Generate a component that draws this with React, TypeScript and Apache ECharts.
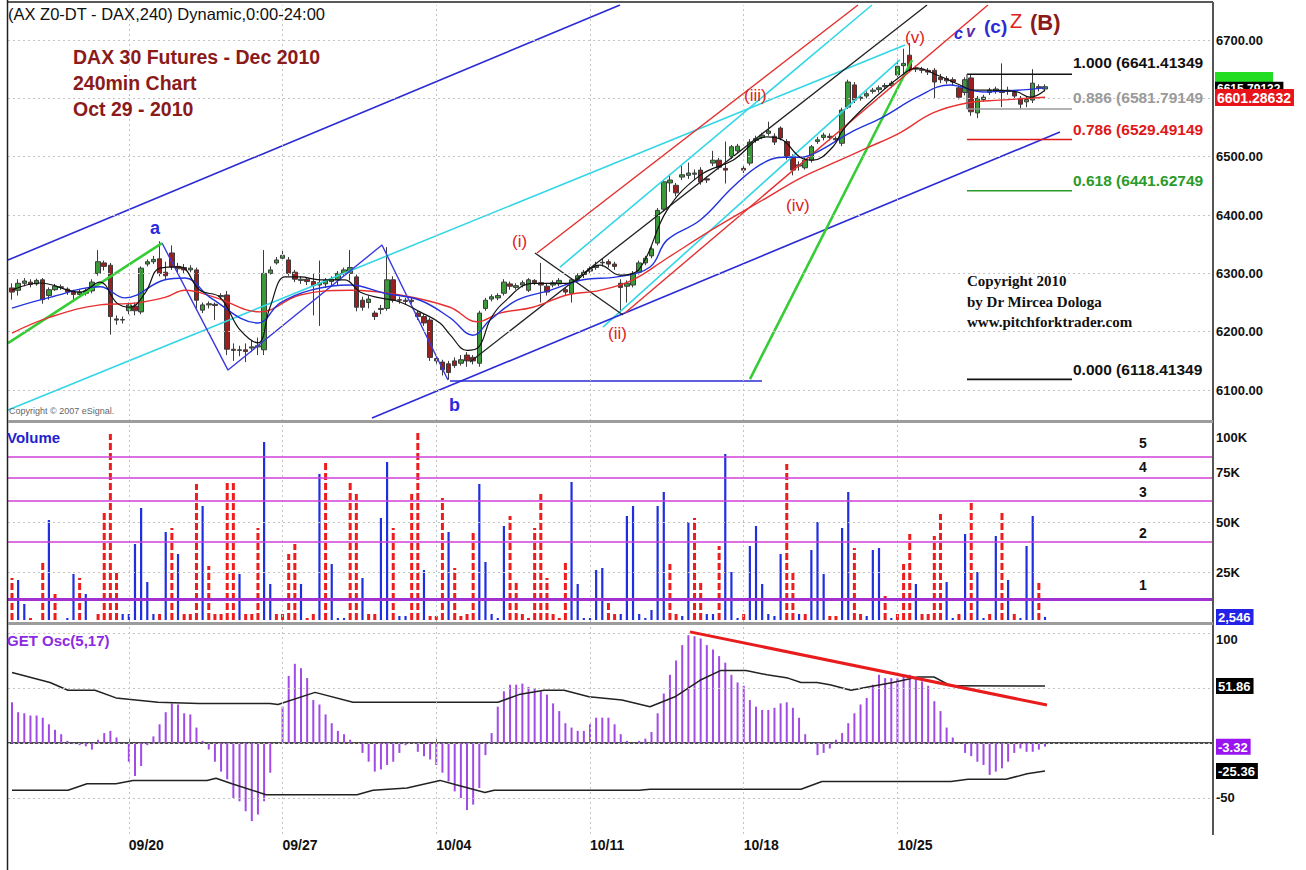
import React, { useEffect, useRef } from "react";
import * as echarts from "echarts";

// ---------- data ----------
const dateTicks = [19, 44, 69, 94, 119, 144];
const dateLabels = ["09/20", "09/27", "10/04", "10/11", "10/18", "10/25"];
const priceGrid = [6100, 6200, 6300, 6400, 6500, 6600, 6700];
const priceTicks = [6100, 6200, 6300, 6400, 6500, 6700]; // 6600 is hidden under the last-price box
const lastPrices = [6615.79132, 6601.28632];
const volTicks = [25, 50, 75, 100];
const lastVolume = 2.546;
const oscTicks = [100, -50];
const oscLast = [51.86, -3.32, -25.36];
const oscGridVals = [100, 50, 0, -50];
const volGridVals = [25, 50];

// [open, close, low, high] per 240-min bar
const candles: number[][] = [
  [6275,6268,6255,6283],[6271,6283,6262,6290],[6283,6287,6278,6292],[6285,6281,6276,6290],[6282,6288,6279,6291],
  [6289,6255,6248,6292],[6262,6272,6255,6276],[6272,6278,6270,6282],[6277,6276,6272,6281],[6273,6268,6263,6276],
  [6268,6264,6255,6272],[6264,6268,6260,6272],[6266,6270,6262,6274],[6270,6285,6266,6290],[6300,6320,6296,6340],
  [6318,6312,6305,6322],[6314,6226,6195,6318],[6222,6220,6212,6228],[6220,6221,6214,6226],[6236,6246,6230,6250],
  [6244,6236,6228,6250],[6234,6309,6230,6312],[6316,6320,6312,6324],[6320,6324,6316,6330],[6325,6300,6295,6355],
  [6302,6296,6290,6320],[6335,6311,6306,6348],[6312,6308,6300,6318],[6310,6306,6300,6316],[6306,6309,6302,6314],
  [6306,6254,6240,6310],[6237,6246,6232,6250],[6246,6248,6240,6252],[6247,6245,6220,6250],[6260,6262,6255,6266],
  [6263,6170,6160,6270],[6170,6168,6150,6180],[6168,6169,6158,6176],[6169,6166,6148,6180],[6172,6174,6165,6185],
  [6174,6176,6160,6190],[6169,6300,6160,6340],[6300,6306,6298,6312],[6318,6323,6315,6328],[6326,6331,6322,6340],
  [6323,6300,6296,6328],[6302,6290,6285,6306],[6288,6290,6282,6295],[6290,6286,6280,6294],[6286,6279,6228,6300],
  [6280,6284,6210,6322],[6282,6288,6275,6292],[6286,6290,6278,6295],[6289,6300,6280,6304],[6300,6306,6296,6310],
  [6300,6310,6288,6340],[6294,6242,6235,6298],[6254,6242,6236,6260],[6250,6256,6240,6262],[6232,6226,6220,6236],
  [6238,6240,6230,6246],[6240,6289,6236,6345],[6289,6254,6250,6295],[6255,6254,6248,6260],[6254,6252,6246,6258],
  [6254,6252,6248,6258],[6232,6226,6220,6236],[6226,6215,6210,6230],[6220,6156,6150,6224],[6154,6150,6145,6160],
  [6148,6135,6125,6152],[6145,6130,6118,6150],[6150,6142,6138,6156],[6146,6152,6142,6160],[6160,6150,6140,6165],
  [6156,6150,6144,6160],[6146,6232,6140,6236],[6240,6254,6236,6258],[6256,6260,6252,6264],[6258,6262,6254,6266],
  [6266,6285,6262,6290],[6282,6278,6272,6286],[6276,6279,6272,6283],[6280,6284,6276,6288],[6271,6289,6268,6292],
  [6288,6284,6280,6290],[6284,6280,6250,6318],[6278,6268,6262,6282],[6280,6284,6276,6288],[6282,6288,6278,6292],
  [6272,6268,6262,6276],[6266,6289,6250,6292],[6289,6296,6286,6300],[6298,6302,6292,6306],[6304,6308,6300,6312],
  [6310,6314,6306,6320],[6318,6319,6312,6326],[6320,6316,6310,6324],[6316,6312,6306,6320],[6283,6276,6234,6290],
  [6278,6283,6250,6288],[6280,6300,6276,6304],[6302,6318,6298,6322],[6318,6326,6314,6330],[6330,6342,6326,6346],
  [6352,6408,6348,6412],[6410,6457,6406,6460],[6455,6460,6440,6470],[6451,6438,6432,6455],[6465,6469,6460,6485],
  [6468,6472,6462,6490],[6470,6472,6460,6478],[6477,6457,6452,6482],[6462,6460,6455,6466],[6489,6494,6484,6510],
  [6494,6482,6478,6498],[6480,6477,6454,6526],[6500,6517,6496,6520],[6510,6518,6506,6522],[6480,6477,6472,6484],
  [6489,6525,6485,6530],[6528,6531,6524,6536],[6533,6537,6530,6541],[6540,6544,6536,6560],[6535,6525,6520,6540],
  [6549,6532,6528,6552],[6526,6500,6495,6530],[6500,6477,6468,6504],[6484,6486,6476,6492],[6481,6494,6478,6498],
  [6494,6517,6490,6520],[6526,6529,6522,6534],[6533,6537,6528,6541],[6535,6533,6528,6540],[6531,6529,6525,6535],
  [6523,6580,6518,6584],[6585,6628,6582,6632],[6623,6597,6592,6628],[6600,6602,6596,6606],[6604,6608,6600,6612],
  [6612,6614,6608,6618],[6615,6618,6610,6622],[6620,6622,6616,6626],[6622,6626,6618,6630],[6640,6655,6636,6668],
  [6656,6660,6640,6685],[6674,6650,6645,6695],[6652,6650,6645,6656],[6650,6648,6643,6654],[6648,6645,6640,6652],
  [6648,6628,6600,6652],[6636,6632,6626,6642],[6634,6630,6625,6638],[6632,6628,6622,6636],[6618,6602,6598,6622],
  [6610,6632,6605,6636],[6635,6577,6570,6640],[6575,6600,6566,6604],[6598,6602,6594,6606],[6610,6614,6606,6618],
  [6612,6616,6608,6620],[6614,6610,6585,6660],[6612,6614,6606,6620],[6610,6604,6598,6614],[6600,6590,6582,6604],
  [6594,6598,6585,6602],[6597,6626,6592,6650],[6620,6618,6612,6624],[6616,6620,6612,6624],
];

// volume in thousands, and direction (1 = up bar, 0 = down bar)
const volumes = [
  22,21,9,2,1,30,51,14,1,2,24,22,14,1,4,55,94,26,4,4,39,57,20,4,4,45,47,34,4,4,
  69,58,28,4,4,71,70,24,4,4,47,90,19,4,4,34,39,19,2,4,74,80,29,2,2,71,64,22,4,4,
  52,80,47,3,3,64,95,26,3,3,62,45,27,3,4,46,69,30,4,2,48,53,20,4,2,47,64,22,4,2,
  30,70,19,2,2,26,27,12,4,4,53,58,4,2,6,58,65,29,4,3,50,52,21,4,4,38,84,25,2,4,
  38,48,19,4,3,34,79,26,4,4,36,50,24,3,3,47,65,37,4,3,36,37,13,2,4,29,44,19,4,4,
  43,54,20,2,4,44,61,25,2,4,43,55,21,4,2,38,53,21,2.546,
];
const volUp = [
  0,1,1,0,0,0,1,0,0,1,1,0,1,1,0,0,0,0,1,1,1,1,1,1,0,1,0,1,0,0,
  0,1,0,0,0,0,0,1,0,0,0,1,1,0,0,0,0,1,0,0,1,0,1,1,1,0,0,1,0,0,
  1,1,0,1,1,0,0,1,0,0,0,1,0,0,0,0,1,1,1,1,1,0,0,0,0,0,0,0,0,0,
  0,1,1,1,1,1,1,0,0,1,1,1,1,1,1,1,1,0,0,1,1,0,0,1,1,0,1,1,1,0,
  1,1,1,1,1,1,0,0,1,0,1,1,1,0,0,1,1,0,0,1,1,1,0,1,0,0,0,1,0,0,
  0,0,1,1,0,1,0,1,1,0,1,0,1,0,1,1,1,0,1,
];
const volumeLevels = [11.5, 40, 60.5, 72, 82.5];
const volumeLevelNames = ["1", "2", "3", "4", "5"];

// GET oscillator histogram
const osc = [
  37,28,27,25,25,23,17,12,8,2,-1,-2,-3,-6,3,9,11,5,0,-17,
  -30,-21,-2,6,17,28,36,35,27,26,14,2,-6,-17,-26,-33,-50,-53,-62,-71,
  -65,-53,-27,0,33,61,72,68,59,39,35,26,18,11,8,3,0,-9,-17,-26,
  -24,-20,-17,-9,-2,0,-8,-12,-15,-20,-27,-35,-44,-50,-61,-56,-41,-11,9,33,
  47,53,53,54,51,50,47,44,36,29,18,14,11,11,17,23,23,23,17,8,
  2,0,2,4,10,27,45,62,75,89,98,97,95,89,85,79,73,62,55,52,
  39,33,30,30,32,36,37,32,23,8,0,-11,-9,-5,3,9,18,27,35,41,
  53,62,59,59,59,61,62,59,56,52,38,29,14,5,0,-9,-12,-17,-20,-29,
  -26,-23,-17,-9,-5,-8,-8,-6,-3.32,
];
const oscUpper = [
  [0,64],[6.18,55],[9.11,48],[13.5,48],[16.91,41],[23.74,37],[30.41,36],[41.96,36],[43.26,35],[49.28,46],
  [55.46,37],[79.04,37],[82.45,44],[86.52,48],[89.77,48],[93.84,42],[99.2,39],[103.76,33],[107.82,42],[111.89,57],
  [115.3,66],[119.37,66],[122.78,62],[126.2,59],[128.31,55],[130.91,55],[133.03,53],[136.44,48],[139.21,51],[143.27,55],
  [147.34,60],[149.94,60],[152.71,52],[168,51.86],
];
const oscLower = [
  [0,-43],[9.11,-43],[12.2,-37],[16.91,-37],[19.68,-34],[31.71,-34],[33.18,-32],[35.78,-37],[41.31,-47],[56.11,-47],
  [58.71,-43],[64.24,-41],[69.6,-34],[72.21,-38],[76.92,-45],[78.39,-43],[101.97,-43],[103.76,-42],[128.31,-42],[131.73,-35],
  [152.71,-35],[155.47,-33],[161.65,-33],[165.07,-28],[168,-25.36],
];
const oscTrend = [[110.26,101],[168.32,34.5]];

// moving averages on price
const maBlack = [
  [0,6271.5],[4.55,6283.5],[11.06,6268],[14.31,6285],[17.08,6249],[19.19,6242],[21.63,6266],[24.07,6309],[27.32,6311],[30.57,6271],
  [33.83,6259],[37.08,6203],[40,6181],[41.96,6242],[44.4,6294],[46.84,6294],[50.09,6289],[54.15,6289],[56.6,6268],[59.85,6258],
  [63.1,6251],[66.35,6234],[69.6,6215],[71.23,6195],[74,6168],[76,6175],[77.74,6220],[79.85,6249],[84.73,6283],[90.26,6283],
  [95.63,6314],[98.88,6297],[102.13,6309],[106.52,6408],[111.89,6468],[117.25,6494],[122.78,6534],[125.39,6528],[128.15,6499],[130.27,6494],
  [133.52,6517],[135.14,6546],[139.05,6589],[144.41,6637],[147.18,6652],[150.43,6640],[154.17,6623],[156.28,6614],[159.05,6614],[163.44,6611],
  [165.56,6602],[168,6614],
];
const maBlue = [
  [0,6240.6],[6.18,6259],[14.31,6277],[18.38,6258],[24.88,6289],[28.13,6292],[32.2,6259],[40,6215],[43.58,6249],[48.46,6271],
  [54.97,6280],[60.66,6266],[66.35,6254],[71.23,6224],[74.97,6194],[77.74,6220],[82.13,6254],[87.49,6271],[92.86,6289],[98.39,6294],
  [103.76,6311],[106.52,6357],[111.89,6391],[117.25,6448],[121.65,6486],[125.39,6499],[128.15,6499],[130.91,6508],[136.28,6541],[141.65,6568],
  [147.18,6602],[152.55,6623],[157.91,6611],[163.44,6614],[168,6618],
];
const maRed = [
  [0,6197.7],[6.18,6225],[14.31,6246],[20,6249],[24.88,6259],[28.13,6271],[33,6259],[40.33,6234],[46.84,6263],[54.97,6271],
  [63.1,6263],[71.23,6242],[75.62,6217],[79.36,6232],[84.73,6242],[90.26,6263],[95.63,6271],[100.99,6289],[106.52,6326],[114.65,6380],
  [122.78,6430],[128.15,6463],[133.52,6489],[139.05,6515],[144.41,6541],[149.78,6575],[155.31,6592],[160.68,6597],[168,6602],
];

// drawn tools (pitchforks, trend lines) in [bar, price]
const blueUpper = [[-0.65,6322.9],[98.88,6760]];
const blueLower = [[58.55,6052],[170.43,6542.3]];
const blueBase = [[71.23,6115.5],[121.97,6115.5]];
const waveZigzag = [[24.4,6352],[35.13,6134.3],[60.17,6348.6],[70.9,6117.2]];
const greenLeft = [[-0.65,6180.6],[24.4,6352]];
const greenRight = [[120.02,6118.9],[146.36,6665.7]];
const blackMedian = [[74.48,6148],[148.81,6760]];
const blackCross = [[85.05,6334.9],[99.37,6228.6]];
const redUpper = [[85.38,6334.9],[137.58,6760]];
const redLower = [[99.69,6232],[158.72,6760]];
const cyanA = [[-0.65,6065.7],[145.23,6691.5]];
const cyanB = [[89.12,6310.9],[139.86,6760]];
const cyanC = [[96.1,6208],[144.4,6666]];

const fibRatios = ["1.000", "0.886", "0.786", "0.618", "0.000"];
const fibPrices = [6641.41349, 6581.79149, 6529.49149, 6441.62749, 6118.41349];
const fibSpan = [155.31, 172.39];

// ---------- styles ----------
const FONT = "Liberation Sans, Arial, sans-serif";
const SERIF = "Liberation Serif, Times New Roman, serif";
const FIB_COLORS = ["#111", "#9a9a9a", "#e01818", "#2a9a2a", "#111"];
const FIB_LABEL_Y = [62, 97, 129, 180, 369];
const VOL_LABEL_Y = [585, 533, 492, 467, 443];
const BOX_COLORS = ["#000", "#e8141a"];
const BOX_FONT = [12, 14];

function lineSeries(data: number[][], color: string, width: number, axis = 0, smooth: boolean | number = false, z = 4) {
  return {
    type: "line", xAxisIndex: axis, yAxisIndex: axis, data, symbol: "none", showSymbol: false,
    silent: true, smooth, clip: true, z,
    lineStyle: { color, width },
  };
}

function txt(text: string, x: number, y: number, fill: string, font: string) {
  return {
    type: "text", x, y, z: 20, silent: true,
    style: { text, fill, font, textAlign: "left", textVerticalAlign: "middle", align: "left", verticalAlign: "middle" },
  };
}

const App = () => {
  const ref = useRef<HTMLDivElement>(null);
  useEffect(() => {
    const chart = echarts.init(ref.current!, null, { renderer: "svg" });
    const xBase = { type: "value", min: -0.65, max: 195.32, show: false };
    const dotted = { type: [2, 3], color: "#c4c4c4", width: 1 };

    const option: any = {
      animation: false,
      backgroundColor: "#fff",
      textStyle: { fontFamily: FONT },
      grid: [
        { left: 8, top: 5, width: 1205, height: 416 },
        { left: 8, top: 422, width: 1205, height: 200 },
        { left: 8, top: 626, width: 1205, height: 208 },
      ],
      xAxis: [
        { ...xBase, gridIndex: 0 },
        { ...xBase, gridIndex: 1 },
        {
          type: "value", gridIndex: 2, min: -0.65, max: 195.32,
          axisLine: { show: true, lineStyle: { color: "#111", width: 1.5 } },
          splitLine: { show: false },
          axisTick: { show: true, inside: true, length: 4, customValues: dateTicks, lineStyle: { color: "#777" } },
          axisLabel: {
            customValues: dateTicks, align: "left", margin: 4,
            fontSize: 14, fontWeight: "bold", color: "#111", fontFamily: FONT,
            formatter: (v: number) => dateLabels[dateTicks.indexOf(v)] ?? "",
          },
        },
      ],
      yAxis: [
        {
          type: "value", gridIndex: 0, position: "right", min: 6047, max: 6760, scale: true,
          axisLine: { show: false }, axisTick: { show: false }, splitLine: { show: false },
          axisLabel: {
            customValues: priceTicks, margin: 3,
            fontSize: 13, fontWeight: "bold", color: "#111", fontFamily: FONT,
            formatter: (v: number) => v.toFixed(2),
          },
        },
        {
          type: "value", gridIndex: 1, position: "right", min: 0, max: 100,
          axisLine: { show: false }, axisTick: { show: false }, splitLine: { show: false },
          axisLabel: {
            customValues: [lastVolume, ...volTicks], margin: 3,
            formatter: (v: number) => {
              if (v === lastVolume) return "{b|" + "2,546" + "}";
              if (v === 100) return "{t|100K}";
              return "{n|" + v + "K}";
            },
            rich: {
              n: { fontSize: 13, fontWeight: "bold", color: "#111", fontFamily: FONT },
              t: { fontSize: 13, fontWeight: "bold", color: "#111", padding: [30, 0, 0, 0], fontFamily: FONT },
              b: { fontSize: 13, fontWeight: "bold", color: "#fff", backgroundColor: "#2222e8", padding: [2, 3, 1, 2], fontFamily: FONT },
            },
          },
        },
        {
          type: "value", gridIndex: 2, position: "right", min: -82.73, max: 106.36,
          axisLine: { show: false }, axisTick: { show: false }, splitLine: { show: false },
          axisLabel: {
            customValues: [...oscTicks, ...oscLast], margin: 3,
            formatter: (v: number) => {
              if (v === 100) return "{t|100}";
              if (v === -3.32) return "{p|-3.32}";
              if (v === 51.86 || v === -25.36) return "{k|" + v.toFixed(2) + "}";
              return "{n|" + v + "}";
            },
            rich: {
              n: { fontSize: 13, fontWeight: "bold", color: "#111", fontFamily: FONT },
              t: { fontSize: 13, fontWeight: "bold", color: "#111", padding: [14, 0, 0, 0], fontFamily: FONT },
              k: { fontSize: 13, fontWeight: "bold", color: "#fff", backgroundColor: "#000", padding: [2, 3, 1, 2], fontFamily: FONT },
              p: { fontSize: 13, fontWeight: "bold", color: "#fff", backgroundColor: "#9a14f0", padding: [2, 3, 1, 2], fontFamily: FONT },
            },
          },
        },
      ],
      series: [
        {
          type: "candlestick", xAxisIndex: 0, yAxisIndex: 0, barWidth: 5, z: 3, silent: true,
          data: candles.map((c, i) => [i, c[0], c[1], c[2], c[3]]),
          encode: { x: 0, y: [1, 2, 3, 4] },
          itemStyle: { color: "#3a9a3a", color0: "#9b1f1f", borderColor: "#3c3c3c", borderColor0: "#3c3c3c", borderWidth: 1 },
          markLine: {
            silent: true, symbol: ["none", "none"], label: { show: false }, lineStyle: dotted,
            data: [
              ...priceGrid.map((v) => ({ yAxis: v })),
              ...dateTicks.map((v) => ({ xAxis: v })),
              ...lastPrices.map((p, k) => ({
                yAxis: p,
                lineStyle: { color: "rgba(0,0,0,0)", width: 0 },
                label: {
                  show: true, position: "end", distance: 2, formatter: p.toFixed(5),
                  color: "#fff", backgroundColor: BOX_COLORS[k], fontSize: BOX_FONT[k], fontWeight: "bold",
                  fontFamily: FONT, padding: [2, 3, 1, 2],
                },
              })),
            ],
          },
        },
        lineSeries(cyanA, "#33d6e6", 1.6),
        lineSeries(cyanB, "#33d6e6", 1.6),
        lineSeries(cyanC, "#33d6e6", 1.6),
        lineSeries(blueUpper, "#2a2ad6", 1.6),
        lineSeries(blueLower, "#2a2ad6", 1.6),
        lineSeries(blueBase, "#2a2ad6", 1.6),
        lineSeries(waveZigzag, "#3a3ae0", 1.4),
        lineSeries(greenLeft, "#35cc35", 2.6),
        lineSeries(greenRight, "#35cc35", 2.6),
        lineSeries(blackMedian, "#222", 1.3),
        lineSeries(blackCross, "#222", 1.3),
        lineSeries(redUpper, "#e33030", 1.4),
        lineSeries(redLower, "#e33030", 1.4),
        lineSeries(maRed, "#e83030", 1.4, 0, 0.4, 5),
        lineSeries(maBlue, "#2233dd", 1.4, 0, 0.4, 5),
        lineSeries(maBlack, "#111", 1.2, 0, 0.4, 5),
        ...fibPrices.map((p, k) => lineSeries([[fibSpan[0], p], [fibSpan[1], p]], FIB_COLORS[k], 1.6)),
        lineSeries([[fibSpan[0], fibPrices[0]], [fibSpan[0], fibPrices[1]]], "#444", 1.2),
        {
          type: "custom", xAxisIndex: 1, yAxisIndex: 1, clip: true, silent: true, z: 3,
          data: volumes.map((v, i) => [i, v, volUp[i]]),
          renderItem: (params: any, api: any) => {
            const x = api.value(0), v = api.value(1), up = api.value(2);
            const p0 = api.coord([x, 0]);
            const p1 = api.coord([x, v]);
            return {
              type: "line",
              shape: { x1: p0[0], y1: p0[1] - 2, x2: p1[0], y2: p1[1] },
              style: up ? { stroke: "#1f2ee0", lineWidth: 2.2 } : { stroke: "#ee1c1c", lineWidth: 3, lineDash: [7, 3] },
            };
          },
          markLine: {
            silent: true, symbol: ["none", "none"], label: { show: false },
            data: [
              ...volGridVals.map((v) => ({ yAxis: v, lineStyle: dotted })),
              ...dateTicks.map((v) => ({ xAxis: v, lineStyle: dotted })),
              ...volumeLevels.map((v, k) => ({ yAxis: v, lineStyle: { type: "solid", color: k === 0 ? "#a030d0" : "#d040d8", width: k === 0 ? 3 : 1.6 } })),
            ],
          },
        },
        {
          type: "custom", xAxisIndex: 2, yAxisIndex: 2, clip: true, silent: true, z: 3,
          data: osc.map((v, i) => [i, v]),
          renderItem: (params: any, api: any) => {
            const x = api.value(0), v = api.value(1);
            const p0 = api.coord([x, 0]);
            const p1 = api.coord([x, v]);
            return { type: "line", shape: { x1: p0[0], y1: p0[1], x2: p1[0], y2: p1[1] }, style: { stroke: "#a24ae6", lineWidth: 2 } };
          },
          markLine: {
            silent: true, symbol: ["none", "none"], label: { show: false }, lineStyle: dotted,
            data: [...oscGridVals.map((v) => ({ yAxis: v })), ...dateTicks.map((v) => ({ xAxis: v }))],
          },
        },
        lineSeries(oscUpper, "#222", 1.5, 2, false, 4),
        lineSeries(oscLower, "#222", 1.5, 2, false, 4),
        lineSeries(oscTrend, "#e81c1c", 3, 2, false, 5),
      ],
      graphic: [
        { type: "line", shape: { x1: 8, y1: 2, x2: 1213, y2: 2 }, style: { stroke: "#222", lineWidth: 1.5 }, z: 10 },
        { type: "line", shape: { x1: 7.5, y1: 0, x2: 7.5, y2: 870 }, style: { stroke: "#222", lineWidth: 1.5 }, z: 10 },
        { type: "line", shape: { x1: 1213, y1: 2, x2: 1213, y2: 835 }, style: { stroke: "#555", lineWidth: 2 }, z: 10 },
        { type: "rect", shape: { x: 8, y: 420, width: 1205, height: 3 }, style: { fill: "#9c9c9c" }, z: 10 },
        { type: "rect", shape: { x: 8, y: 622, width: 1205, height: 3 }, style: { fill: "#9c9c9c" }, z: 10 },
        { type: "rect", shape: { x: 1215, y: 72, width: 58, height: 10 }, style: { fill: "#22dd22" }, z: 1 },
        txt("(AX Z0-DT - DAX,240) Dynamic,0:00-24:00", 8, 14, "#111", "16.5px " + FONT),
        txt("DAX 30 Futures - Dec 2010", 73, 57, "#8b1a1a", "bold 19.5px " + FONT),
        txt("240min Chart", 73, 83, "#8b1a1a", "bold 19.5px " + FONT),
        txt("Oct 29 - 2010", 73, 109, "#8b1a1a", "bold 19.5px " + FONT),
        txt("Copyright 2010", 967, 281, "#111", "bold 15px " + SERIF),
        txt("by Dr Mircea Dologa", 967, 302, "#111", "bold 15px " + SERIF),
        txt("www.pitchforktrader.com", 967, 322, "#111", "bold 15px " + SERIF),
        txt("Copyright \u00a9 2007 eSignal.", 9, 411, "#666", "9px " + FONT),
        ...fibRatios.map((r, k) => txt(r + " (" + fibPrices[k].toFixed(5), 1073, FIB_LABEL_Y[k], FIB_COLORS[k], "bold 15.5px " + FONT)),
        txt("a", 150, 228, "#2a2ae0", "bold 18px " + FONT),
        txt("b", 449, 405, "#2a2ae0", "bold 18px " + FONT),
        txt("(i)", 512, 241, "#e02020", "17px " + FONT),
        txt("(ii)", 608, 333, "#e02020", "17px " + FONT),
        txt("(iii)", 744, 95, "#e02020", "17px " + FONT),
        txt("(iv)", 786, 205, "#e02020", "17px " + FONT),
        txt("(v)", 905, 37, "#e02020", "17px " + FONT),
        txt("c", 954, 33, "#2a2ad6", "italic bold 16px " + FONT),
        txt("v", 966, 31, "#5a2aa6", "italic bold 16px " + FONT),
        txt("(c)", 984, 26, "#2a2ad6", "bold 19px " + FONT),
        txt("Z", 1010, 21, "#e02020", "20px " + FONT),
        txt("(B)", 1030, 22, "#8b1a1a", "bold 22px " + FONT),
        txt("Volume", 7, 437, "#2222cc", "bold 15px " + FONT),
        txt("GET Osc(5,17)", 7, 640, "#8a2be2", "bold 15px " + FONT),
        ...volumeLevelNames.map((n, k) => txt(n, 1139, VOL_LABEL_Y[k], "#111", "bold 14px " + FONT)),
      ],
    };
    chart.setOption(option);
    return () => chart.dispose();
  }, []);
  return <div ref={ref} style={{ position: "absolute", left: 0, top: 0, width: 1306, height: 870, background: "#fff" }} />;
};

export default App;
